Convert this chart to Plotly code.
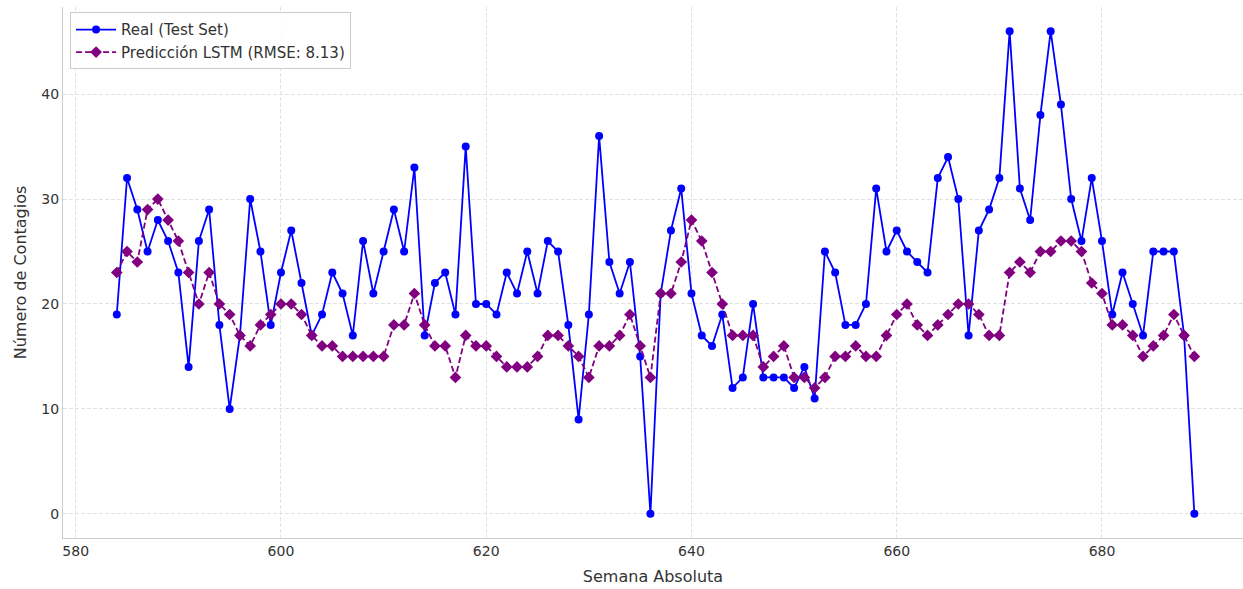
import plotly.graph_objects as go

weeks = list(range(584, 690))
real = [19, 32, 29, 25, 28, 26, 23, 14, 26, 29, 18, 10, 17, 30, 25, 18,
        23, 27, 22, 17, 19, 23, 21, 17, 26, 21, 25, 29, 25, 33, 17, 22,
        23, 19, 35, 20, 20, 19, 23, 21, 25, 21, 26, 25, 18, 9, 19, 36,
        24, 21, 24, 15, 0, 21, 27, 31, 21, 17, 16, 19, 12, 13, 20, 13,
        13, 13, 12, 14, 11, 25, 23, 18, 18, 20, 31, 25, 27, 25, 24, 23,
        32, 34, 30, 17, 27, 29, 32, 46, 31, 28, 38, 46, 39, 30, 26, 32,
        26, 19, 23, 20, 17, 25, 25, 25, 17, 0]
pred = [23, 25, 24, 29, 30, 28, 26, 23, 20, 23, 20, 19, 17, 16, 18, 19,
        20, 20, 19, 17, 16, 16, 15, 15, 15, 15, 15, 18, 18, 21, 18, 16,
        16, 13, 17, 16, 16, 15, 14, 14, 14, 15, 17, 17, 16, 15, 13, 16,
        16, 17, 19, 16, 13, 21, 21, 24, 28, 26, 23, 20, 17, 17, 17, 14,
        15, 16, 13, 13, 12, 13, 15, 15, 16, 15, 15, 17, 19, 20, 18, 17,
        18, 19, 20, 20, 19, 17, 17, 23, 24, 23, 25, 25, 26, 26, 25, 22,
        21, 18, 18, 17, 15, 16, 17, 19, 17, 15]
x_ticks = [580, 600, 620, 640, 660, 680]
y_ticks = [0, 10, 20, 30, 40]

font_family = "DejaVu Sans"

fig = go.Figure()
fig.add_trace(go.Scatter(
    x=weeks, y=real, mode="lines+markers", name="Real (Test Set)",
    line=dict(color="#0000ff", width=1.8),
    marker=dict(symbol="circle", size=8, color="#0000ff"),
))
fig.add_trace(go.Scatter(
    x=weeks, y=pred, mode="lines+markers", name="Predicción LSTM (RMSE: 8.13)",
    line=dict(color="#800080", width=1.8, dash="6px,3px"),
    marker=dict(symbol="diamond", size=9, color="#800080"),
))

grid = "#e2e2e2"
fig.update_layout(
    width=1243, height=589,
    margin=dict(l=63, r=0, t=7, b=51),
    paper_bgcolor="white", plot_bgcolor="white",
    font=dict(family=font_family, size=14, color="#333333"),
    showlegend=True,
    legend=dict(
        x=0.006, y=0.99, xanchor="left", yanchor="top",
        bgcolor="rgba(255,255,255,0.85)", bordercolor="#cccccc", borderwidth=1,
        font=dict(family=font_family, size=15, color="#333333"),
        tracegroupgap=0, itemwidth=40,
    ),
    xaxis=dict(
        range=[578.76, 693.74], tickvals=x_ticks,
        showgrid=True, gridcolor=grid, griddash="4px,2px", gridwidth=1,
        showline=True, linecolor="#cccccc", linewidth=1.2,
        zeroline=False, ticks="", ticklen=0,
        tickfont=dict(size=14, color="#333333"),
        title=dict(text="Semana Absoluta", font=dict(size=16, color="#333333"), standoff=12),
    ),
    yaxis=dict(
        range=[-2.3, 48.3], tickvals=y_ticks,
        showgrid=True, gridcolor=grid, griddash="4px,2px", gridwidth=1,
        showline=True, linecolor="#cccccc", linewidth=1.2,
        zeroline=False, ticks="", ticklen=0,
        tickfont=dict(size=14, color="#333333"),
        title=dict(text="Número de Contagios", font=dict(size=16, color="#333333"), standoff=10),
    ),
)

fig.write_html(
    "out.html",
    config={"displayModeBar": False},
    post_script="document.body.style.margin='0';document.body.style.overflow='hidden';",
)
